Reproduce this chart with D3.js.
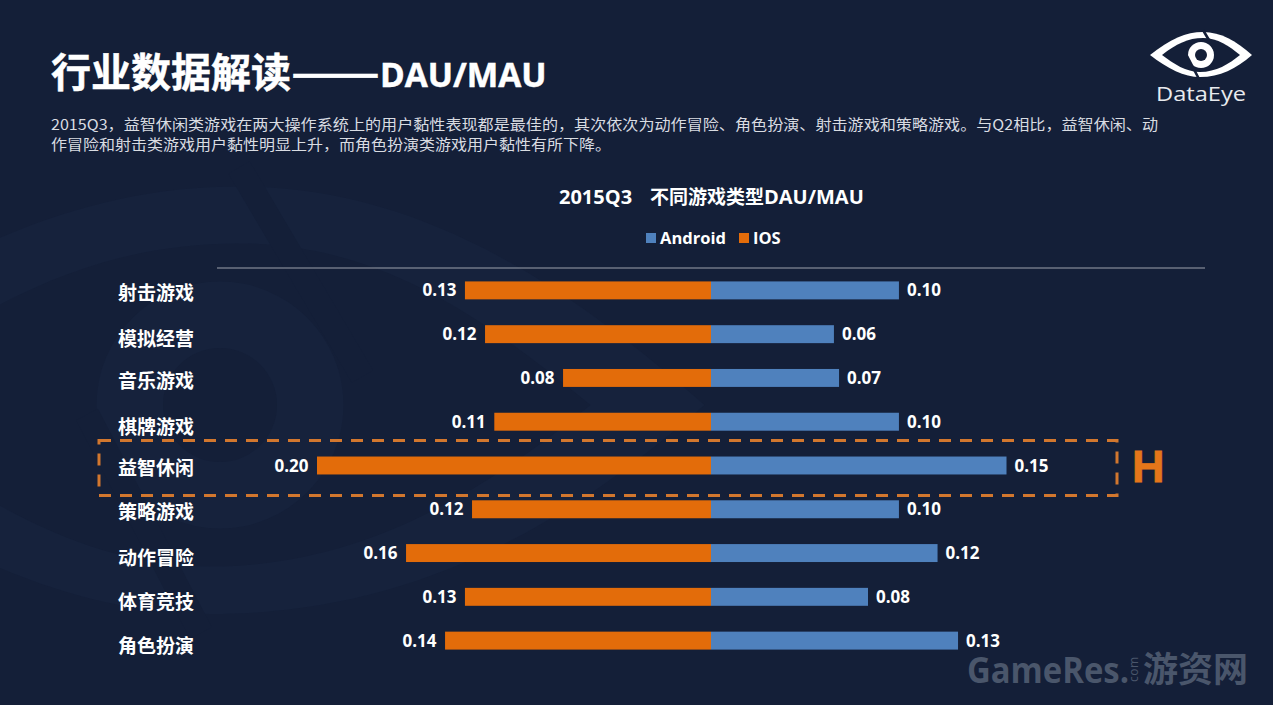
<!DOCTYPE html>
<html><head><meta charset="utf-8">
<script src="https://cdn.jsdelivr.net/npm/d3@7/dist/d3.min.js"></script>
<style>html,body{margin:0;padding:0;background:#141f38;overflow:hidden}svg{display:block}</style>
</head><body><svg id="c" width="1273" height="705"></svg>
<script>
const categories = ["射击游戏","模拟经营","音乐游戏","棋牌游戏","益智休闲","策略游戏","动作冒险","体育竞技","角色扮演"];
const androidValues = [0.0954,0.0624,0.065,0.0954,0.150,0.0954,0.115,0.0797,0.1254];
const iosValues = [0.1249,0.1147,0.0751,0.110,0.200,0.1213,0.1548,0.1249,0.135];
const androidLabels = ["0.10","0.06","0.07","0.10","0.15","0.10","0.12","0.08","0.13"];
const iosLabels = ["0.13","0.12","0.08","0.11","0.20","0.12","0.16","0.13","0.14"];
const highlighted = "益智休闲";
const bodyLines = ["2015Q3，益智休闲类游戏在两大操作系统上的用户黏性表现都是最佳的，其次依次为动作冒险、角色扮演、射击游戏和策略游戏。与Q2相比，益智休闲、动","作冒险和射击类游戏用户黏性明显上升，而角色扮演类游戏用户黏性有所下降。"];
const seriesNames = ["Android","IOS"];

const CJK = "'Noto Sans CJK SC','Noto Sans',sans-serif";
const LATIN = "'Open Sans','Noto Sans',sans-serif";
const BLUE="#4f81bd", ORANGE="#e36c0a", BG="#141f38";
const svg = d3.select("#c");

function drawEye(g, fg, bg){
  g.append("path").attr("fill",fg).attr("d","M1150 55 C1170 39 1186 32 1203 32 C1221 32 1236 41 1252 55 C1236 69 1220 77 1200 77 C1184 77 1168 69 1150 55Z");
  g.append("path").attr("fill",bg).attr("d","M1162 55 C1176 44 1188 38 1203 38 C1218 38 1229 46 1240 55 C1229 64 1216 72 1200 72 C1186 72 1174 64 1162 55Z");
  g.append("circle").attr("cx",1201).attr("cy",55).attr("r",13).attr("fill",fg);
  g.append("circle").attr("cx",1201).attr("cy",55).attr("r",6).attr("fill",bg);
  g.append("path").attr("fill","none").attr("stroke",bg).attr("stroke-width",2.6).attr("d","M1203 30 L1216 52 M1187 56 L1199 79");
}

// faint watermark: the logo enlarged behind the chart
drawEye(svg.append("g").attr("transform","translate(220,405) scale(9.5) translate(-1201,-55)"),"#16223c",BG);

const x = d3.scaleLinear().domain([-0.2,0.15]).range([317,1006.5]);
const y = d3.scaleBand().domain(categories).range([268.5,662.5]).paddingInner(0.59).paddingOuter(0.295);
const yLabel = d3.scalePoint().domain(categories).range([293,646]);
const labelNudge = [0,2,0,2,-2,-2,0,0,0];

const titleStyle = s => s.attr("y",87).attr("fill","#fff").attr("stroke","#fff").attr("stroke-width",0.5).attr("font-weight",700);
svg.append("text").call(titleStyle).attr("x",51).attr("font-family",CJK).attr("font-size",40).text("行业数据解读");
svg.append("text").call(titleStyle).attr("x",291).attr("font-family",CJK).attr("font-size",40).attr("textLength",89).attr("lengthAdjust","spacingAndGlyphs").text("——");
svg.append("text").call(titleStyle).attr("x",380).attr("font-family",LATIN).attr("font-size",33.4).text("DAU/MAU");

bodyLines.forEach((t,i)=>svg.append("text").attr("x",51).attr("y",130+i*20).attr("fill","#d9dce2").attr("font-family",CJK).attr("font-size",14.3).attr("textLength",i==0?1107:560).attr("lengthAdjust","spacingAndGlyphs").text(t));

const ct = svg.append("text").attr("x",559).attr("y",204).attr("fill","#fff").attr("font-family",CJK).attr("font-weight",700).attr("font-size",19);
ct.append("tspan").attr("font-family",LATIN).attr("font-size",20).text("2015Q3");
ct.append("tspan").attr("x",650).text("不同游戏类型");
ct.append("tspan").attr("font-family",LATIN).attr("font-size",20).text("DAU/MAU");

// legend
[[646,660,BLUE],[739,753,ORANGE]].forEach((p,i)=>{
  svg.append("rect").attr("x",p[0]).attr("y",233).attr("width",10).attr("height",10).attr("fill",p[2]);
  svg.append("text").attr("x",p[1]).attr("y",243.5).attr("fill","#fff").attr("font-family",LATIN).attr("font-weight",700).attr("font-size",16.5).text(seriesNames[i]);
});

svg.append("line").attr("x1",217).attr("x2",1205).attr("y1",268).attr("y2",268).attr("stroke","#9da2ac").attr("stroke-width",1);

categories.forEach((c,i)=>{
  const by=y(c), h=y.bandwidth();
  svg.append("rect").attr("x",x(-iosValues[i])).attr("y",by).attr("width",x(0)-x(-iosValues[i])).attr("height",h).attr("fill",ORANGE);
  svg.append("rect").attr("x",x(0)).attr("y",by).attr("width",x(androidValues[i])-x(0)).attr("height",h).attr("fill",BLUE);
  svg.append("text").attr("x",x(-iosValues[i])-8.5).attr("y",by+h/2+6).attr("text-anchor","end").attr("fill","#fff").attr("font-family",LATIN).attr("font-weight",700).attr("font-size",17).text(iosLabels[i]);
  svg.append("text").attr("x",x(androidValues[i])+8).attr("y",by+h/2+6).attr("fill","#fff").attr("font-family",LATIN).attr("font-weight",700).attr("font-size",17).text(androidLabels[i]);
  svg.append("text").attr("x",118).attr("y",yLabel(c)+7+labelNudge[i]).attr("fill","#fff").attr("font-family",CJK).attr("font-weight",700).attr("font-size",19).text(c);
});

// highlight
const hy=y(highlighted)+y.bandwidth()/2;
svg.append("rect").attr("x",99).attr("y",hy-25).attr("width",1018).attr("height",55).attr("fill","none").attr("stroke","#d2772e").attr("stroke-width",3).attr("stroke-dasharray","12 9");
svg.append("text").attr("x",1132).attr("y",hy+16).attr("fill","#e5761a").attr("stroke","#e5761a").attr("stroke-width",0.8).attr("font-family","'Liberation Sans',sans-serif").attr("font-weight",700).attr("font-size",45).text("H");

// logo
drawEye(svg.append("g"),"#fff",BG);
svg.append("text").attr("x",1156).attr("y",101).attr("font-family",LATIN).attr("font-size",20).attr("fill","#e8eaee").attr("textLength",90).attr("lengthAdjust","spacingAndGlyphs").text("DataEye");

// source mark
svg.append("text").attr("x",967).attr("y",683).attr("fill","#4a566b").attr("font-family",LATIN).attr("font-weight",700).attr("font-size",36).attr("textLength",162).attr("lengthAdjust","spacingAndGlyphs").text("GameRes.");
svg.append("text").attr("transform","translate(1138,682) rotate(-90)").attr("fill","#4a566b").attr("font-family",LATIN).attr("font-size",12).attr("textLength",25).text("com");
svg.append("text").attr("x",1143).attr("y",682).attr("fill","#4a566b").attr("font-family",CJK).attr("font-weight",700).attr("font-size",35).text("游资网");
</script></body></html>
